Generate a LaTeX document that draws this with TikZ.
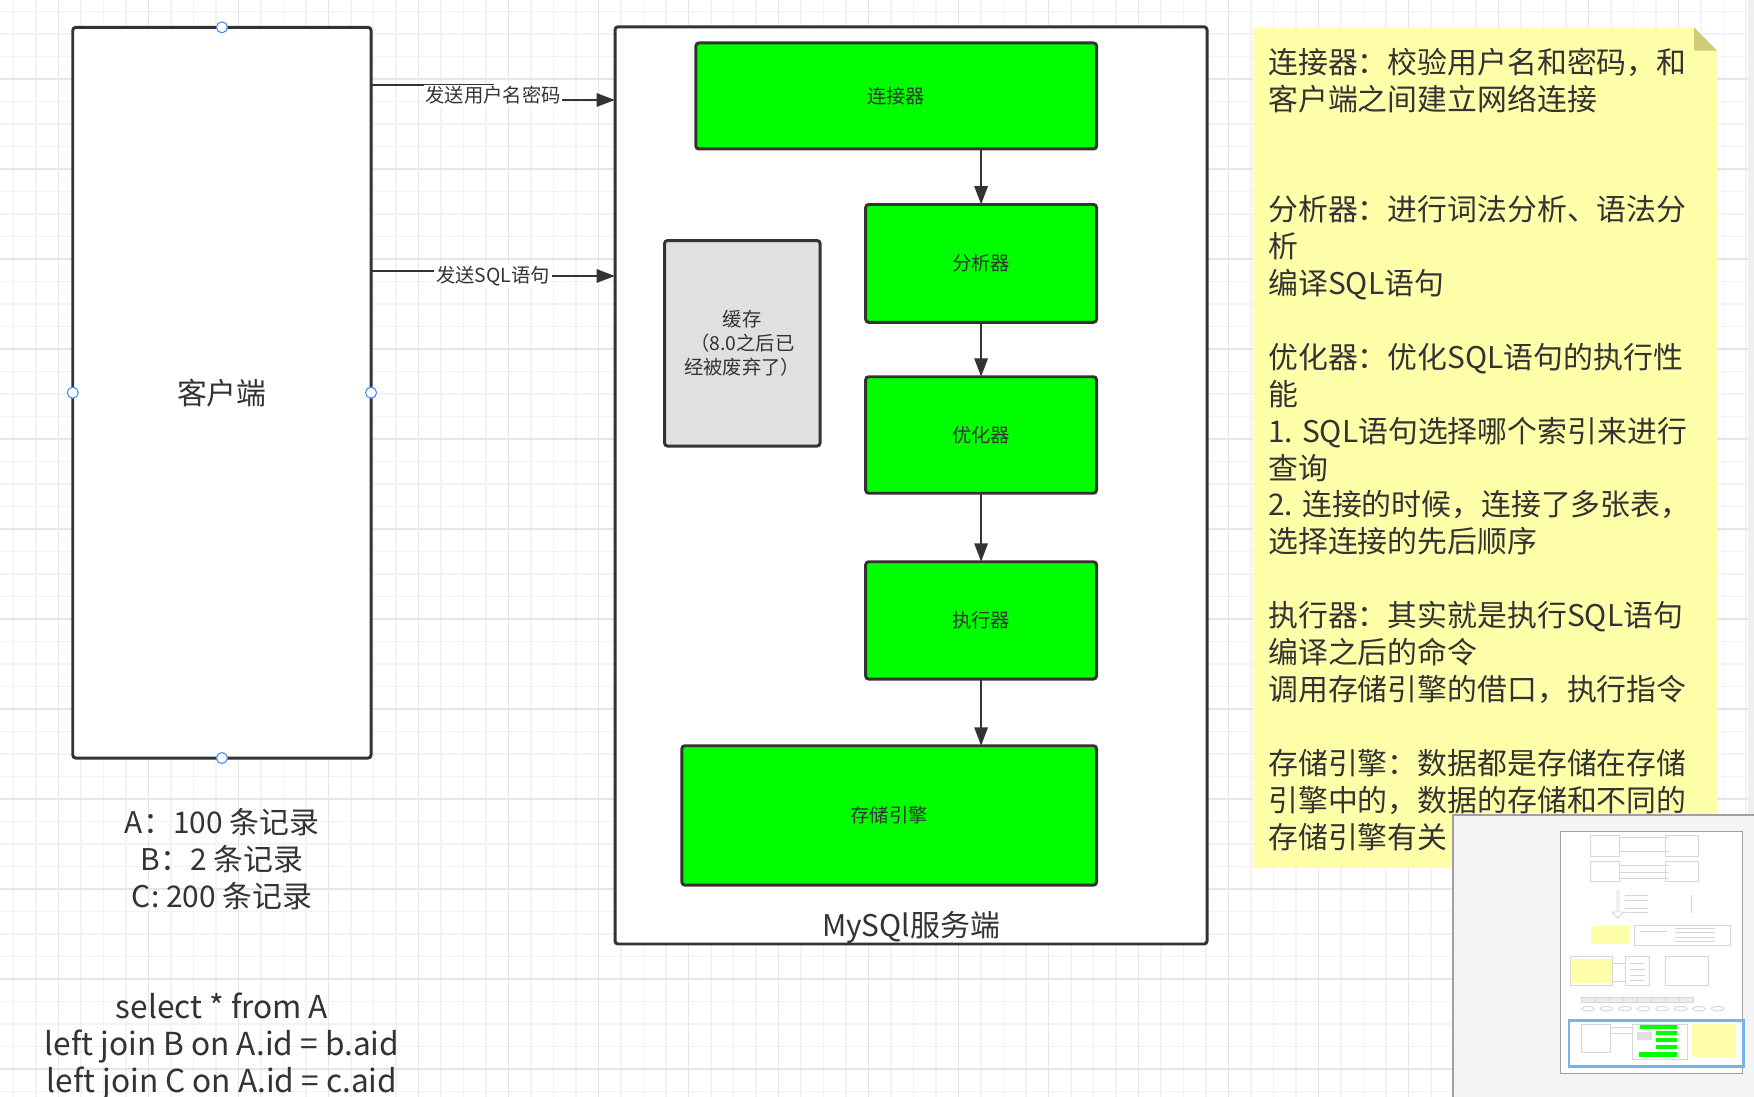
\documentclass[tikz,border=0pt]{standalone}
\usepackage{fontspec}
\setmainfont{Noto Sans CJK SC}
\usetikzlibrary{arrows.meta,calc}

\newcommand{\pxu}{0.02cm}
\newcommand{\bigtxt}{\fontsize{17pt}{21pt}\selectfont}
\newcommand{\querytxt}{\fontsize{18pt}{21pt}\selectfont}
\newcommand{\smalltxt}{\fontsize{11pt}{13.7pt}\selectfont}

\definecolor{linec}{HTML}{333333}
\definecolor{boxgreen}{HTML}{00FF00}
\definecolor{cachegray}{HTML}{E0E0E0}
\definecolor{notey}{HTML}{FFFFAA}
\definecolor{notefold}{HTML}{CCCC77}
\definecolor{gridminor}{HTML}{F3F3F3}
\definecolor{gridmajor}{HTML}{E6E6E6}
\definecolor{portblue}{HTML}{3D8EEB}
\definecolor{mapbg}{HTML}{F4F4F4}
\definecolor{mapedge}{HTML}{A0A0A0}
\definecolor{mapblue}{HTML}{74B3EC}
\definecolor{thumbline}{HTML}{D6D6D6}
\definecolor{scrollgray}{HTML}{EFEFEF}

\tikzset{
  wh/.style 2 args={minimum width=#1*\pxu, minimum height=#2*\pxu},
  boxframe/.style={draw=linec, line width=1.7pt, rounded corners=1.7pt, inner sep=0pt, outer sep=0pt},
  stage/.style={boxframe, fill=boxgreen, font=\smalltxt, text=linec},
  cachebox/.style={boxframe, fill=cachegray, font=\smalltxt, text=linec, align=center},
  link/.style={draw=linec, line width=1.5pt, -{Triangle[length=10.5pt,width=7.5pt]}},
  linklabel/.style={fill=white, font=\smalltxt, text=linec, inner xsep=1pt, inner ysep=1pt},
  port/.style={circle, draw=portblue, fill=white, line width=0.6pt, minimum size=11*\pxu, inner sep=0pt},
  bigtext/.style={font=\bigtxt, text=linec, align=center, inner sep=0pt},
  notetext/.style={font=\bigtxt, text=linec, align=left, inner sep=0pt},
  thumb/.style={draw=thumbline, line width=0.5pt},
}

\begin{document}
\begin{tikzpicture}[x=0.02cm,y=-0.02cm]
\useasboundingbox (0,0) rectangle (1754,1097);
\fill[white] (0,0) rectangle (1754,1097);

% grid
\foreach \gx in {0,...,77} \draw[gridminor, line width=0.6pt] ({13.5+22.5*\gx},0) -- ++(0,1097);
\foreach \gy in {0,...,48} \draw[gridminor, line width=0.6pt] (0,{11.5+22.5*\gy}) -- ++(1754,0);
\foreach \gx in {0,...,18} \draw[gridmajor, line width=0.6pt] ({58.5+90*\gx},0) -- ++(0,1097);
\foreach \gy in {1,...,12} \draw[gridmajor, line width=0.6pt] (0,{-11+90*\gy}) -- ++(1754,0);
\fill[scrollgray] (1748,0) rectangle (1754,815);

% client
\node[boxframe, fill=white, wh={298.3}{730.7}, font=\bigtxt, text=linec] (client) at (221.9,392.7) {客户端};
\node[port] (portn) at (client.north) {};
\node[port] (ports) at (client.south) {};
\node[port] (portw) at (client.west) {};
\node[port] (porte) at (client.east) {};

% server
\node[boxframe, fill=white, wh={592}{917.2}] (server) at (911,485.4) {};
\node[bigtext] (serverlabel) at (911,927) {MySQl服务端};

\node[stage, wh={400.7}{106}] (conn) at (896.2,96) {连接器};
\node[stage, wh={230.8}{117.8}] (parser) at (981.1,263.4) {分析器};
\node[stage, wh={230.8}{116.5}] (optim) at (981.1,435) {优化器};
\node[stage, wh={230.8}{117.3}] (exec) at (981.1,620.4) {执行器};
\node[stage, wh={414.7}{139.3}] (engine) at (889.2,815.4) {存储引擎};
\node[cachebox, wh={155.5}{205.5}] (cache) at (742.3,343.3) {缓存\\（8.0之后已\\经被废弃了）};

\draw[link] (conn.south -| parser.north) -- (parser.north);
\draw[link] (parser) -- (optim);
\draw[link] (optim) -- (exec);
\draw[link] (exec.south) -- (exec.south |- engine.north);

% client -> server
\coordinate (sendauth) at ($(client.north east)+(0,57.7)$);
\coordinate (authin) at ($(server.north west)+(0,73.2)$);
\coordinate (sendsql) at ($(client.north east)+(0,243.7)$);
\coordinate (sqlin) at ($(server.north west)+(0,249.2)$);
\draw[link] (sendauth) -| ($(sendauth)!0.5!(authin)$) |- (authin);
\node[linklabel] (authlabel) at ($(sendauth)!0.5!(authin)+(0,3)$) {发送用户名密码};
\draw[link] (sendsql) -| ($(sendsql)!0.5!(sqlin)$) |- (sqlin);
\node[linklabel] (sqllabel) at ($(sendsql)!0.5!(sqlin)+(0,3)$) {发送SQL语句};

% tables and query
\node[bigtext, anchor=north] (tables) at (222,808) {A：100 条记录\\B：2 条记录\\C: 200 条记录};
\node[bigtext, font=\querytxt, anchor=north] (query) at (222,993) {select * from A\\left join B on A.id = b.aid\\left join C on A.id = c.aid};

% note
\fill[notey] (1253,27.3) -- (1694,27.3) -- (1717,50.7) -- (1717,868) -- (1253,868) -- cycle;
\fill[notefold] (1694,27.3) -- (1694,50.7) -- (1717,50.7) -- cycle;
\node[notetext, anchor=north west] (notebody) at (1268,47.5) {连接器：校验用户名和密码，和\\
客户端之间建立网络连接\\[42pt]
分析器：进行词法分析、语法分\\
析\\
编译SQL语句\\[21pt]
优化器：优化SQL语句的执行性\\
能\\
1. SQL语句选择哪个索引来进行\\
查询\\
2. 连接的时候，连接了多张表，\\
选择连接的先后顺序\\[21pt]
执行器：其实就是执行SQL语句\\
编译之后的命令\\
调用存储引擎的借口，执行指令\\[21pt]
存储引擎：数据都是存储在存储\\
引擎中的，数据的存储和不同的\\
存储引擎有关};

% outline panel
\fill[mapbg] (1453,815) rectangle (1754,1097);
\draw[mapedge, line width=0.8pt] (1453,1097) -- (1453,815) -- (1754,815);
\draw[fill=white, draw=mapedge, line width=0.6pt] (1560.3,831.7) rectangle (1742.7,1073.3);
\draw[thumb] (1590,835) rectangle (1619,856) (1665,835) rectangle (1698.3,856);
\draw[thumb] (1619,837.7) -- (1669,837.7) (1619,851.7) -- (1669,851.7);
\draw[thumb] (1590,861) rectangle (1619,881.7) (1665,861) rectangle (1698.3,881.7);
\draw[thumb] (1619,865) -- (1669,865) (1619,872.7) -- (1669,872.7) (1619,878.3) -- (1669,878.3);
\draw[thumb] (1617,890) -- (1617,912) -- (1612,912) -- (1618,918.3) -- (1624,912) -- (1619,912) -- (1619,890);
\draw[thumb] (1625,895.7) -- (1648.3,895.7) (1625,900) -- (1648.3,900) (1625,908.3) -- (1648.3,908.3) (1625,912.3) -- (1648.3,912.3);
\draw[thumb] (1691.7,895) -- (1691.7,913.3);
\fill[notey] (1590.7,925.7) rectangle (1630,944.3);
\draw[thumb] (1634,925.7) rectangle (1730.7,945);
\draw[thumb] (1640,931) -- (1666.7,931);
\draw[thumb] (1675,928.3) -- (1715,928.3) (1675,932.7) -- (1715,932.7) (1675,937.3) -- (1715,937.3) (1675,941.7) -- (1715,941.7);
\draw[thumb] (1570,956.7) rectangle (1612.3,985.7);
\fill[notey] (1572.3,959) rectangle (1610.7,983.3);
\draw[thumb] (1612.3,963.3) -- (1625.7,963.3) (1612.3,981.7) -- (1625.7,981.7);
\draw[thumb] (1625.7,956.7) rectangle (1649,985.7);
\draw[thumb] (1630,963.3) -- (1645,963.3) (1630,969) -- (1645,969) (1630,975) -- (1645,975) (1630,980) -- (1645,980);
\draw[thumb] (1665,956.7) rectangle (1708.3,985.7);
\foreach \k in {0,...,7} \draw[thumb, fill=gray!15] ({1581.7+14*\k},997.3) rectangle ++(14,5);
\foreach \k in {0,...,7} \draw[thumb] ({1588+18.5*\k},1008.7) ellipse (6.5 and 2.2);
\draw[thumb] (1581,1024) rectangle (1610,1052.3);
\draw[thumb] (1610,1027.3) -- (1632.7,1027.3) (1610,1033.3) -- (1632.7,1033.3);
\draw[thumb] (1632.7,1024) rectangle (1687.7,1059);
\fill[boxgreen] (1640,1025) rectangle (1677.3,1029.3);
\fill[boxgreen] (1656,1031) rectangle (1677.3,1035);
\fill[boxgreen] (1656,1037.7) rectangle (1677.3,1041.7);
\fill[boxgreen] (1656,1045) rectangle (1677.3,1049.3);
\fill[boxgreen] (1639,1051.7) rectangle (1677.3,1056.7);
\fill[cachegray] (1636.7,1032.3) rectangle (1652.3,1040);
\fill[notey] (1692.3,1024) rectangle (1735.7,1056.7);
\draw[mapblue, line width=1.5pt] (1569,1020.7) rectangle (1743.3,1066.7);
\end{tikzpicture}
\end{document}
